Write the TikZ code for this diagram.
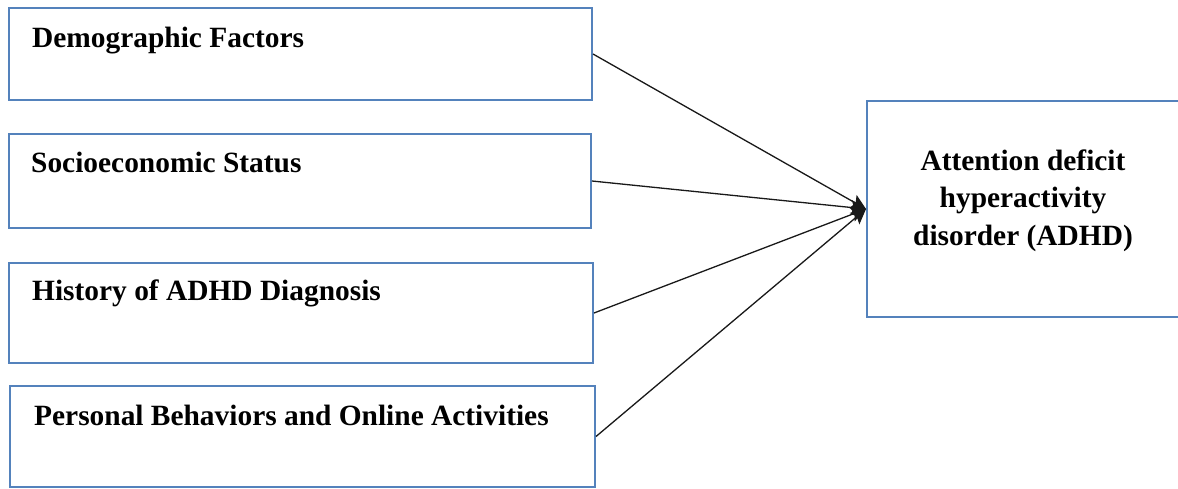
\documentclass[tikz,border=0pt]{standalone}
\usepackage{fontspec}
\setmainfont{Liberation Serif}
\usetikzlibrary{arrows.meta}
\definecolor{boxblue}{RGB}{84,130,188}
\begin{document}
\begin{tikzpicture}[x=1pt,y=-1pt,
  leftbox/.style={draw=boxblue,line width=2pt,rectangle,inner sep=0pt,minimum width=583pt},
  lbl/.style={anchor=base west,inner sep=0pt,font=\bfseries\fontsize{29.4}{34}\selectfont},
  outbox/.style={draw=boxblue,line width=2pt,rectangle,inner sep=0pt},
  outlbl/.style={align=center,anchor=base,inner sep=0pt,font=\bfseries\fontsize{29.4}{37.5}\selectfont},
  link/.style={line width=1.3pt,black!90,-{Stealth[length=15pt,width=15pt,inset=3pt]}}]
\clip (0,0) rectangle (1178,488);
\fill[white] (0,0) rectangle (1178,488);
\node[leftbox,minimum height=92pt] (b1) at (300.5,54) {};
\node[leftbox,minimum width=582pt,minimum height=94pt] (b2) at (300,181) {};
\node[leftbox,minimum width=584pt,minimum height=100pt] (b3) at (301,313) {};
\node[leftbox,minimum width=585pt,minimum height=101pt] (b4) at (302.5,436.5) {};
\node[lbl] (t1) at (32,47) {Demographic Factors};
\node[lbl] (t2) at (31,172) {Socioeconomic Status};
\node[lbl] (t3) at (32,300) {History of ADHD Diagnosis};
\node[lbl] (t4) at (34,425) {Personal Behaviors and Online Activities};
\node[outbox,minimum width=312pt,minimum height=216pt] (adhd) at (1023,209) {};
\node[outlbl] (at) at (1023,245)
  {Attention deficit\\hyperactivity\\disorder (ADHD)};
\draw[link] (b1.east) -- (adhd.west);
\draw[link] (b2.east) -- (adhd.west);
\draw[link] (b3.east) -- (adhd.west);
\draw[link] (b4.east) -- (adhd.west);
\end{tikzpicture}
\end{document}
